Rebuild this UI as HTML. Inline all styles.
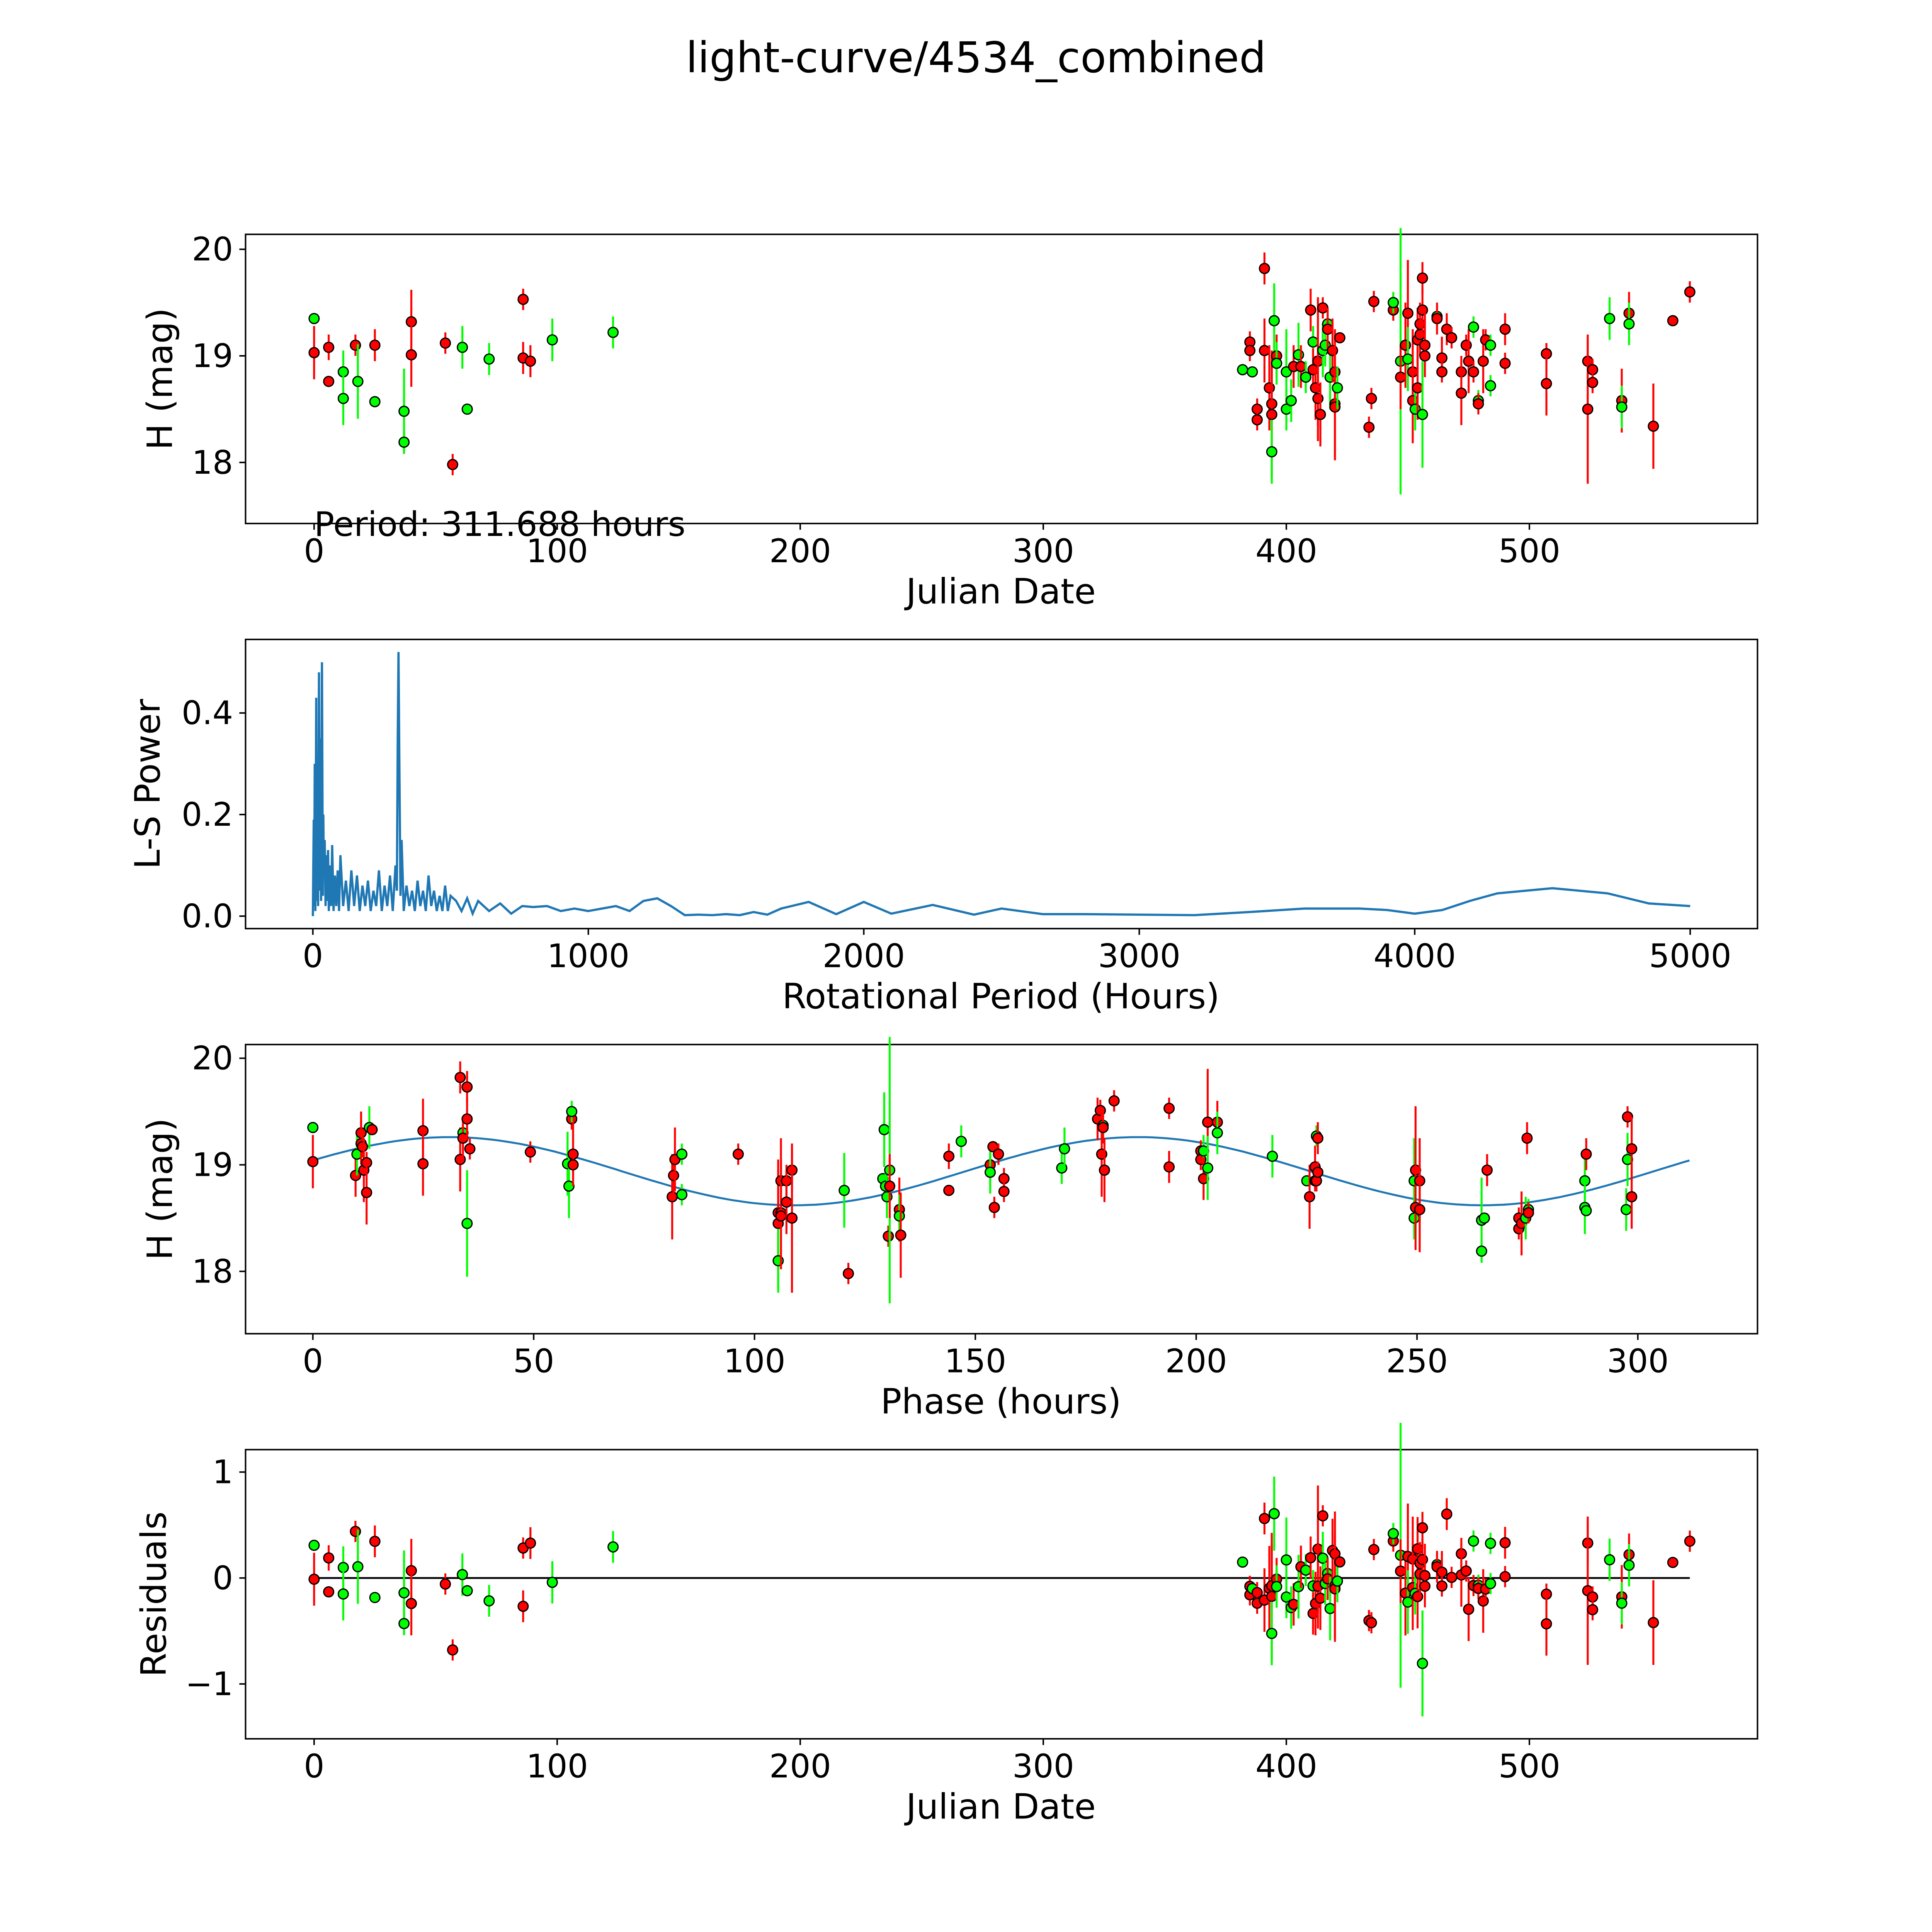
<!DOCTYPE html>
<html><head><meta charset="utf-8"><style>
html,body{margin:0;padding:0;background:#fff;overflow:hidden;width:100%;height:100%;}
svg{display:block;width:100vw;height:100vh;font-family:"DejaVu Sans","Liberation Sans",sans-serif;}
</style></head>
<body>
<svg id="fig" viewBox="0 0 1550 1550" preserveAspectRatio="xMidYMid meet" xmlns="http://www.w3.org/2000/svg">
<rect x="0" y="0" width="1550" height="1550" fill="#fff"/>
<text x="783" y="58" font-size="34" text-anchor="middle">light-curve/4534_combined</text>
<g id="p1"></g>
<g id="p2"></g>
<g id="p3"></g>
<g id="p4"></g>
</svg>
<script>
// ---- data ----
const obsDate = [0,0,6,6,12,12,17,18,25,25,37,37,40,40,54,57,61,63,72,86,86,89,98,123,
382,385,385,386,388,388,391,391,393,394,394,394,395,396,396,400,400,402,403,405,406,408,410,411,411,412,413,413,414,415,415,416,417,417,418,419,420,420,420,421,422,434,435,436,444,444,447,447,449,450,450,452,452,453,454,454,455,455,456,456,456,457,457,462,462,464,464,466,468,472,472,474,475,477,477,479,479,481,482,484,484,490,490,507,507,524,524,526,526,533,538,538,541,541,551,559,566];
const obsMag = [19.35,19.03,19.08,18.76,18.85,18.6,19.1,18.76,19.1,18.57,18.48,18.19,19.32,19.01,19.12,17.98,19.08,18.5,18.97,19.53,18.98,18.95,19.15,19.22,
18.87,19.13,19.05,18.85,18.5,18.4,19.82,19.05,18.7,18.55,18.45,18.1,19.33,19.0,18.93,18.85,18.5,18.58,18.9,19.01,18.9,18.8,19.43,19.13,18.87,18.7,18.95,18.6,18.45,19.05,19.45,19.1,19.3,19.25,18.8,19.05,18.85,18.55,18.52,18.7,19.17,18.33,18.6,19.51,19.43,19.5,18.95,18.8,19.1,19.4,18.97,18.85,18.58,18.5,19.15,18.7,19.3,19.2,19.43,19.73,18.45,19.1,19.0,19.37,19.35,18.98,18.85,19.25,19.17,18.85,18.65,19.1,18.95,19.27,18.85,18.58,18.55,18.95,19.15,19.1,18.72,19.25,18.93,19.02,18.74,18.95,18.5,18.87,18.75,19.35,18.58,18.52,19.4,19.3,18.34,19.33,19.6];
const obsErr = [0.05,0.25,0.12,0.05,0.2,0.25,0.1,0.35,0.15,0.05,0.4,0.1,0.3,0.3,0.1,0.1,0.2,0.05,0.15,0.1,0.15,0.15,0.2,0.15,
0.05,0.1,0.1,0.05,0.1,0.1,0.15,0.3,0.4,0.4,0.6,0.3,0.35,0.2,0.2,0.4,0.2,0.2,0.2,0.3,0.2,0.15,0.2,0.15,0.2,0.3,0.6,0.4,0.3,0.25,0.1,0.2,0.15,0.2,0.3,0.3,0.4,0.5,0.5,0.2,0.05,0.1,0.1,0.1,0.1,0.1,1.25,0.3,0.4,0.5,0.3,0.4,0.4,0.2,0.3,0.3,0.2,0.2,0.2,0.15,0.5,0.3,0.1,0.1,0.15,0.2,0.1,0.15,0.1,0.15,0.3,0.1,0.3,0.1,0.1,0.1,0.1,0.3,0.1,0.1,0.1,0.15,0.1,0.1,0.3,0.2,0.7,0.1,0.1,0.2,0.3,0.2,0.2,0.2,0.4,0.05,0.1];
const obsBand = "grrrggrgrgggrrrrgggrrrgg"+
"grrgrrrrrrrggrggggrgrgrgrrrrrgrggrgrrrrgrrrrrggrrrgrrgrrrrrrgrrgrrrrrrrrrgrgrrrggrrrrrrrrgrgrgrrrrrrrrrr";
const period = 311.688;
const modelMean = 18.94, modelAmp = 0.32, modelPhase0 = -8;
const lsPeriod = [0,3,5,7,9,12,14,17,19,22,25,27,30,33,36,38,40,43,46,49,52,55,58,62,66,70,75,80,85,90,95,100,110,120,130,140,150,160,170,180,190,200,210,220,230,240,250,260,270,280,290,300,305,308,311,314,318,322,330,340,350,360,370,380,390,400,410,420,430,440,450,460,470,480,490,500,520,540,560,580,600,640,680,720,760,800,850,900,950,1000,1050,1100,1150,1200,1250,1300,1350,1400,1450,1500,1550,1600,1650,1700,1800,1900,2000,2100,2250,2400,2500,2650,2800,3000,3200,3400,3600,3800,3900,4000,4100,4200,4300,4500,4700,4850,5000];
const lsPower = [0,0.19,0.02,0.3,0.01,0.43,0.03,0.25,0.02,0.48,0.05,0.35,0.03,0.5,0.04,0.2,0.08,0.15,0.02,0.12,0.03,0.13,0.01,0.1,0.02,0.14,0.01,0.08,0.02,0.09,0.01,0.12,0.02,0.07,0.01,0.09,0.02,0.08,0.01,0.06,0.02,0.07,0.01,0.05,0.02,0.09,0.01,0.06,0.02,0.08,0.01,0.1,0.05,0.35,0.52,0.3,0.04,0.15,0.01,0.06,0.02,0.05,0.01,0.07,0.02,0.05,0.01,0.08,0.02,0.05,0.01,0.04,0.01,0.06,0.01,0.04,0.03,0.01,0.035,0.005,0.03,0.01,0.025,0.005,0.02,0.018,0.02,0.01,0.015,0.01,0.015,0.02,0.01,0.03,0.035,0.02,0.002,0.003,0.002,0.004,0.002,0.008,0.003,0.015,0.028,0.004,0.028,0.005,0.022,0.003,0.015,0.004,0.004,0.003,0.002,0.008,0.015,0.015,0.012,0.005,0.012,0.03,0.045,0.055,0.045,0.025,0.02];
const xTicksDate = [0,100,200,300,400,500];
const yTicksMag = [18,19,20];
const xTicksLS = [0,1000,2000,3000,4000,5000];
const yTicksLS = [0.0,0.2,0.4];
const xTicksPhase = [0,50,100,150,200,250,300];
const yTicksRes = [-1,0,1];

// ---- helpers ----
const NS = "http://www.w3.org/2000/svg";
function mk(parent, tag, attrs, txt){const e=document.createElementNS(NS,tag);for(const k in attrs)e.setAttribute(k,attrs[k]);if(txt!==undefined)e.textContent=txt;parent.appendChild(e);return e;}
const L=197,R=1410;
function axisLin(d0,d1,p0,p1){return v=>p0+(v-d0)*(p1-p0)/(d1-d0);}
const xDate = axisLin(0,500,252,1227);
const xLS = axisLin(0,5000,251,1356);
const xPh = axisLin(0,300,251,1314);
const yMag1 = axisLin(18,20,371,200);
const yLS = axisLin(0,0.4,735,572);
const yMag3 = axisLin(18,20,1020,849);
const yRes = axisLin(-1,1,1351,1181);
const colorOf = c => c==="g" ? "#00ff00" : "#ff0000";
function model(ph){return modelMean + modelAmp*Math.sin(2*Math.PI*(ph-modelPhase0)/(period/2));}
function fmt(v,dec){return v<0?"\u2212"+Math.abs(v).toFixed(dec):v.toFixed(dec);}

function frame(g,top,bot,xt,xs,yt,ys,dec,xlab,ylab,ylabX){
  const f=mk(g,"rect",{x:L,y:top,width:R-L,height:bot-top,fill:"none",stroke:"#000","stroke-width":1.2});
  
  
  xt.forEach(v=>{const x=xs(v);
    const t=mk(g,"line",{x1:x,x2:x,y1:bot,y2:bot+5,stroke:"#000","stroke-width":1.2});
    
    
    const l=mk(g,"text",{x:x,y:bot+31,"font-size":26,"text-anchor":"middle"},String(v));
    
    });
  yt.forEach(v=>{const y=ys(v);
    const t=mk(g,"line",{x1:L-5,x2:L,y1:y,y2:y,stroke:"#000","stroke-width":1.2});
    
    
    const l=mk(g,"text",{x:L-10,y:y+9,"font-size":26,"text-anchor":"end"},fmt(v,dec));
    
    });
  const xl=mk(g,"text",{x:803,y:bot+64,"font-size":28,"text-anchor":"middle"},xlab);
  
  
  const cy=(top+bot)/2;
  const yl=mk(g,"text",{x:ylabX,y:cy,"font-size":28,"text-anchor":"middle",transform:`rotate(-90 ${ylabX} ${cy})`},ylab);
  
  
}
function point(g,x,yc,ylo,yhi,col){
  const eb=mk(g,"line",{x1:x,x2:x,y1:ylo,y2:yhi,stroke:col,"stroke-width":1.6});
  
  
  const c=mk(g,"circle",{cx:x,cy:yc,r:4,fill:col,stroke:"#000","stroke-width":1});
  
  
}

// ---- panel 1 ----
const p1=document.getElementById("p1");
frame(p1,188,420,xTicksDate,xDate,yTicksMag,yMag1,0,"Julian Date","H (mag)",138);
obsDate.forEach((d,i)=>point(p1,xDate(d),yMag1(obsMag[i]),yMag1(obsMag[i]-obsErr[i]),yMag1(obsMag[i]+obsErr[i]),colorOf(obsBand[i])));
const pt=mk(p1,"text",{x:252,y:430,"font-size":27},"Period: "+period.toFixed(3)+" hours");



// ---- panel 2 ----
const p2=document.getElementById("p2");
frame(p2,513,745,xTicksLS,xLS,yTicksLS,yLS,1,"Rotational Period (Hours)","L-S Power",128);
const lsPts=lsPeriod.map((p,i)=>xLS(p).toFixed(1)+","+yLS(lsPower[i]).toFixed(1)).join(" ");
const ls=mk(p2,"polyline",{points:lsPts,fill:"none",stroke:"#1f77b4","stroke-width":1.8});



// ---- panel 3 ----
const p3=document.getElementById("p3");
frame(p3,838,1070,xTicksPhase,xPh,yTicksMag,yMag3,0,"Phase (hours)","H (mag)",138);
let mp=[];for(let k=0;k<=200;k++){const ph=period*k/200;mp.push(xPh(ph).toFixed(1)+","+yMag3(model(ph)).toFixed(1));}
const mc=mk(p3,"polyline",{points:mp.join(" "),fill:"none",stroke:"#1f77b4","stroke-width":1.6});


obsDate.forEach((d,i)=>{const ph=(d*24)%period;
  point(p3,xPh(ph),yMag3(obsMag[i]),yMag3(obsMag[i]-obsErr[i]),yMag3(obsMag[i]+obsErr[i]),colorOf(obsBand[i]));});

// ---- panel 4 ----
const p4=document.getElementById("p4");
frame(p4,1163,1395,xTicksDate,xDate,yTicksRes,yRes,0,"Julian Date","Residuals",133);
const zl=mk(p4,"line",{x1:xDate(0),x2:xDate(566),y1:yRes(0),y2:yRes(0),stroke:"#000","stroke-width":1.5});


obsDate.forEach((d,i)=>{const r=obsMag[i]-model((d*24)%period);
  point(p4,xDate(d),yRes(r),yRes(r-obsErr[i]),yRes(r+obsErr[i]),colorOf(obsBand[i]));});
</script>
</body></html>
